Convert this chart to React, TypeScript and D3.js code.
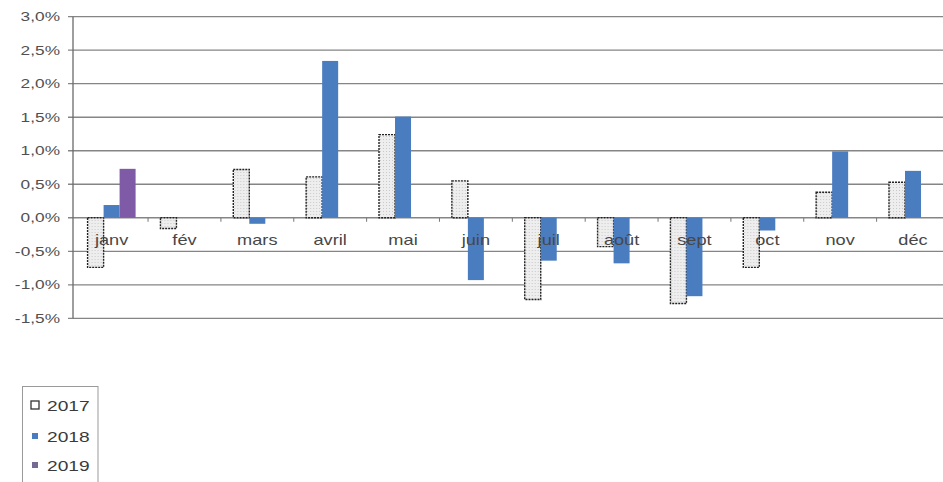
import React from 'react';
import * as d3 from 'd3';

const months = ['janv', 'fév', 'mars', 'avril', 'mai', 'juin', 'juil', 'août', 'sept', 'oct', 'nov', 'déc'];
const years = ['2017', '2018', '2019'];
const values2017 = [-0.74, -0.16, 0.72, 0.61, 1.24, 0.55, -1.22, -0.43, -1.28, -0.74, 0.38, 0.53];
const values2018 = [0.19, 0, -0.09, 2.34, 1.51, -0.93, -0.64, -0.68, -1.17, -0.19, 0.99, 0.7];
const values2019: (number | null)[] = [0.73, null, null, null, null, null, null, null, null, null, null, null];
const yTicks = [3.0, 2.5, 2.0, 1.5, 1.0, 0.5, 0.0, -0.5, -1.0, -1.5];

const width = 943;
const height = 482;
const axisX = 73;
const fontFamily = '"Liberation Sans", Arial, sans-serif';

const seriesValues = [values2017, values2018, values2019];

const App: React.FC = () => {
  const x0 = d3.scaleBand<string>()
    .domain(months)
    .range([75.2, 75.2 + 72.85 * 12])
    .paddingInner(0.341)
    .paddingOuter(0.17);
  const x1 = d3.scaleBand<string>()
    .domain(years)
    .range([0, x0.bandwidth()]);
  const y = d3.scaleLinear().domain([-1.5, 3]).range([318.3, 16.7]);

  const fmt = (v: number) => v.toFixed(1).replace('.', ',') + '%';

  const fill = (yr: string) => (yr === '2017' ? 'url(#dots)' : yr === '2018' ? '#4a7dbf' : '#7f5aa6');

  return (
    <svg width={width} height={height} style={{ display: 'block', position: 'absolute', left: 0, top: 0 }}>
      <defs>
        <pattern id="dots" width={3} height={3} patternUnits="userSpaceOnUse">
          <rect width={3} height={3} fill="#eeeeee" />
          <circle cx={1.5} cy={1.5} r={0.5} fill="#bdbdbd" />
        </pattern>
      </defs>
      <rect width={width} height={height} fill="#fff" />

      {/* gridlines */}
      {yTicks.map(t => (
        <line key={t} x1={axisX - 5} x2={width} y1={y(t)} y2={y(t)} stroke="#858585" strokeWidth={1.3} />
      ))}
      <line x1={axisX} x2={axisX} y1={y(3)} y2={y(-1.5)} stroke="#6a6a6a" strokeWidth={1.3} />

      {/* category ticks on zero line */}
      {months.map((m, i) => {
        const bx = x0.step() * i + 75.2;
        return i === 0 ? null : (
          <line key={m} x1={bx} x2={bx} y1={y(0)} y2={y(0) + 4} stroke="#777" strokeWidth={1} />
        );
      })}

      {/* y labels */}
      {yTicks.map(t => (
        <text key={t} transform={`translate(60,${y(t) + 4.5}) scale(1.33,1)`} textAnchor="end"
          fontFamily={fontFamily} fontSize={13} fill="#505050">{fmt(t)}</text>
      ))}

      {/* bars */}
      {months.map((m, i) => (
        <g key={m} transform={`translate(${x0(m)},0)`}>
          {years.map((yr, k) => {
            const v = seriesValues[k][i];
            if (v === null || v === undefined || v === 0) return null;
            const top = y(Math.max(0, v));
            const h = Math.abs(y(v) - y(0));
            return (
              <rect key={yr} x={x1(yr)} y={top} width={x1.bandwidth()} height={h}
                fill={fill(yr)}
                stroke={yr === '2017' ? '#222' : 'none'}
                strokeWidth={yr === '2017' ? 1.4 : 0}
                strokeDasharray={yr === '2017' ? '2,1' : undefined} />
            );
          })}
        </g>
      ))}

      {/* month labels */}
      {months.map(m => (
        <text key={m} transform={`translate(${(x0(m) ?? 0) + x0.bandwidth() / 2},${y(0) + 27}) scale(1.3,1)`}
          textAnchor="middle" fontFamily={fontFamily} fontSize={14} fill="#474747">{m}</text>
      ))}

      {/* legend */}
      <rect x={22.5} y={386.5} width={75.5} height={110} fill="none" stroke="#9a9a9a" strokeWidth={1} />
      {years.map((yr, k) => {
        const cy = [405, 436, 465][k];
        return (
          <g key={yr}>
            {yr === '2017'
              ? <rect x={31} y={cy - 4} width={8} height={8} fill="#fff" stroke="#333" strokeWidth={1.3} />
              : <rect x={32} y={cy - 3} width={6} height={6} fill={yr === '2018' ? '#4a7dbf' : '#776a92'} />}
            <text transform={`translate(47,${cy + 5.5}) scale(1.28,1)`} fontFamily={fontFamily} fontSize={15}
              fill="#3a3a3a">{yr}</text>
          </g>
        );
      })}
    </svg>
  );
};

export default App;
